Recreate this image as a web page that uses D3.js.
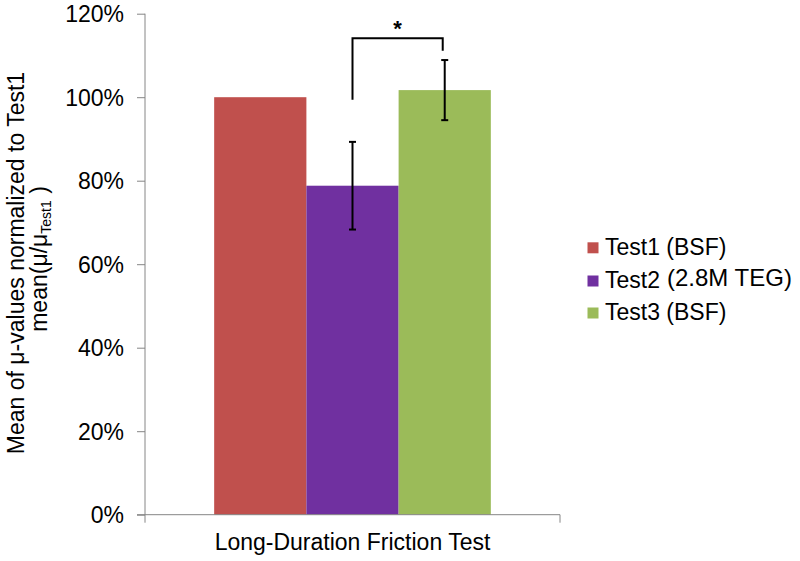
<!DOCTYPE html>
<html>
<head>
<meta charset="utf-8">
<script src="https://cdn.jsdelivr.net/npm/d3@7"></script>
<style>
  html, body { margin: 0; padding: 0; background: #fff; }
  svg { display: block; font-family: "Liberation Sans", Arial, sans-serif; }
</style>
</head>
<body>
<svg id="chart" width="800" height="561"></svg>
<script>
const categories = ["Long-Duration Friction Test"];
const seriesNames = ["Test1", "Test2", "Test3"];
const legendMain = ["Test1 (BSF)", "Test2", "Test3 (BSF)"];
const legendExtra = ["", "(2.8M TEG)", ""];
const means = [100, 78.8, 101.7];
const errors = [0, 10.5, 7.2];
const colors = ["#C0504D", "#7030A0", "#9BBB59"];
const yTicks = [0, 20, 40, 60, 80, 100, 120];
const bracket = { from: 1, to: 2, leftBottom: 99.4, top: 114.1, rightBottom: 111.1, label: "*" };

(function () {
const svg = d3.select("#chart");
const pLeft = 145, pRight = 560, pTop = 13.7, pBottom = 514.7;
const fs = "23px";

const y = d3.scaleLinear().domain([0, 120]).range([pBottom, pTop]);
const x0 = d3.scaleBand().domain(categories).range([pLeft, pRight]).paddingOuter(0.25).paddingInner(0);
const x1 = d3.scaleBand().domain(seriesNames).range([0, x0.bandwidth()]).padding(0);

const axisColor = "#868686";

// Y axis
const yAxis = svg.append("g").attr("transform", `translate(${pLeft},0)`)
  .call(d3.axisLeft(y).tickValues(yTicks).tickSize(8).tickPadding(13).tickFormat(d => d + "%"));
yAxis.select(".domain").attr("stroke", axisColor).attr("d", `M0,${pTop}V${pBottom}`);
yAxis.selectAll(".tick line").attr("stroke", axisColor);
yAxis.selectAll(".tick text").attr("fill", "#000").style("font-size", fs).attr("dy", "0.35em")
  .style("font-family", "'Liberation Sans', Arial, sans-serif");

// Bars
const g = svg.append("g");
categories.forEach(cat => {
  seriesNames.forEach((s, i) => {
    g.append("rect")
      .attr("x", x0(cat) + x1(s))
      .attr("y", y(means[i]))
      .attr("width", x1.bandwidth())
      .attr("height", y(0) - y(means[i]))
      .attr("fill", colors[i]);
  });
});

// X axis
const xAxis = svg.append("g").attr("transform", `translate(0,${pBottom})`)
  .call(d3.axisBottom(x0).tickSize(0).tickFormat(""));
xAxis.select(".domain").attr("stroke", axisColor).attr("d", `M${pLeft - 8},0H${pRight}M${pLeft},0V8M${pRight},0V8`);
svg.append("text")
  .attr("x", x0(categories[0]) + x0.bandwidth() / 2)
  .attr("y", 550)
  .attr("text-anchor", "middle")
  .style("font-size", fs)
  .text(categories[0]);

// Error bars
categories.forEach(cat => {
  seriesNames.forEach((s, i) => {
    if (!errors[i]) return;
    const cx = x0(cat) + x1(s) + x1.bandwidth() / 2;
    const eg = svg.append("g").attr("stroke", "#000").attr("stroke-width", 2);
    eg.append("line").attr("x1", cx).attr("x2", cx).attr("y1", y(means[i] - errors[i])).attr("y2", y(means[i] + errors[i]));
    [means[i] - errors[i], means[i] + errors[i]].forEach(v => {
      eg.append("line").attr("x1", cx - 3.5).attr("x2", cx + 3.5).attr("y1", y(v)).attr("y2", y(v));
    });
  });
});

// Significance bracket
const bx1 = x0(categories[0]) + x1(seriesNames[bracket.from]) + x1.bandwidth() / 2;
const bx2 = x0(categories[0]) + x1(seriesNames[bracket.to]) + x1.bandwidth() / 2 - 2;
svg.append("path")
  .attr("d", `M${bx1},${y(bracket.leftBottom)}V${y(bracket.top)}H${bx2}V${y(bracket.rightBottom)}`)
  .attr("fill", "none").attr("stroke", "#000").attr("stroke-width", 2);
svg.append("text")
  .attr("x", (bx1 + bx2) / 2)
  .attr("y", 36)
  .attr("text-anchor", "middle")
  .style("font-size", "22px").style("font-weight", "bold")
  .text(bracket.label);

// Y title
const yt = svg.append("text")
  .attr("transform", "translate(24,263) rotate(-90)")
  .attr("text-anchor", "middle")
  .style("font-size", fs);
yt.append("tspan").attr("x", 0).attr("y", 0).text("Mean of μ-values normalized to Test1");
const yt2 = svg.append("text")
  .attr("transform", "translate(47,259) rotate(-90)")
  .attr("text-anchor", "middle")
  .style("font-size", fs);
yt2.append("tspan").text("mean(μ/μ");
yt2.append("tspan").attr("dy", 4).style("font-size", "14px").text("Test1");
yt2.append("tspan").attr("dy", -4).text(" )");

// Legend
const legY = [242.3, 275.5, 307.5];
seriesNames.forEach((s, i) => {
  svg.append("rect").attr("x", 587.5).attr("y", legY[i]).attr("width", 11).attr("height", 11).attr("fill", colors[i]);
  const t = svg.append("text").attr("x", 605).attr("y", legY[i] + 12.8).style("font-size", fs);
  t.append("tspan").text(legendMain[i]);
  if (legendExtra[i]) {
    t.append("tspan").attr("dx", 7).attr("dy", -2).style("font-size", "24px").text(legendExtra[i]);
  }
});
})();
</script>
</body>
</html>
